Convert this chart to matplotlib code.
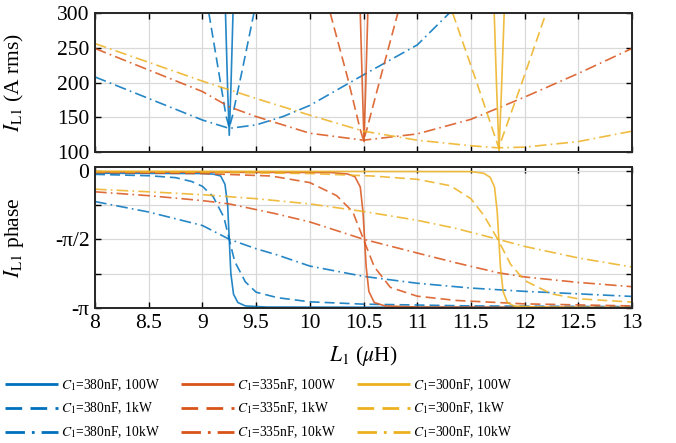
import numpy as np
import matplotlib
matplotlib.use("Agg")
import matplotlib.pyplot as plt
from matplotlib.lines import Line2D

# ---- magnitude readings (L1 in uH, I_L1 in A rms) ----
L_380_100 = [9.215, 9.235, 9.25, 9.265, 9.285]
I_380_100 = [300, 190, 124, 190, 300]
L_380_1k = [9.06, 9.15, 9.22, 9.25, 9.28, 9.37, 9.48]
I_380_1k = [300, 217, 152, 135, 152, 217, 300]
L_380_10k = [8, 8.5, 9.0, 9.25, 9.5, 9.75, 10.0, 10.5, 11.0, 11.3]
I_380_10k = [208, 177, 146, 134, 139, 151, 167, 211, 254, 300]

L_335_100 = [10.47, 10.49, 10.505, 10.52, 10.54]
I_335_100 = [300, 190, 115, 190, 300]
L_335_1k = [10.19, 10.35, 10.47, 10.5, 10.53, 10.66, 10.82]
I_335_1k = [300, 208, 132, 117, 132, 208, 300]
L_335_10k = [8, 8.5, 9.0, 9.25, 9.5, 10.0, 10.5, 11.0, 11.5, 12.0, 12.5, 13.0]
I_335_10k = [249, 218, 187, 165, 151, 127, 117, 126, 147, 179, 213, 249]

L_300_100 = [11.717, 11.74, 11.762, 11.785, 11.81]
I_300_100 = [300, 190, 101, 190, 300]
L_300_1k = [11.33, 11.55, 11.72, 11.76, 11.8, 11.98, 12.2]
I_300_1k = [300, 202, 124, 106, 124, 202, 300]
L_300_10k = [8, 8.5, 9.0, 9.5, 10.0, 10.5, 11.0, 11.5, 11.75, 12.0, 12.5, 13.0]
I_300_10k = [256, 229, 202, 177, 153, 130, 117, 109, 106, 107, 115, 130]

# ---- phase readings (in units of pi) ----
pL_380_100 = [8, 9.0, 9.1, 9.17, 9.21, 9.235, 9.25, 9.265, 9.29, 9.33, 9.4, 9.6, 13]
ph_380_100 = [-0.02, -0.022, -0.026, -0.04, -0.1, -0.25, -0.5, -0.75, -0.9, -0.96, -0.985, -0.993, -0.997]
pL_380_1k = [8, 8.5, 8.75, 8.9, 9.0, 9.1, 9.2, 9.25, 9.3, 9.4, 9.5, 9.7, 10.0, 10.5, 11.5, 13]
ph_380_1k = [-0.028, -0.038, -0.052, -0.08, -0.115, -0.19, -0.34, -0.5, -0.66, -0.81, -0.885, -0.925,
             -0.955, -0.972, -0.985, -0.99]
pL_380_10k = [8, 8.5, 9.0, 9.25, 9.5, 9.7, 10.0, 10.5, 11.0, 11.5, 12.0, 12.5, 13.0]
ph_380_10k = [-0.226, -0.302, -0.40, -0.5, -0.569, -0.615, -0.695, -0.77, -0.82, -0.855, -0.879, -0.897, -0.916]

pL_335_100 = [8, 10.2, 10.35, 10.42, 10.47, 10.495, 10.51, 10.525, 10.55, 10.6, 10.7, 11.0, 13]
ph_335_100 = [-0.01, -0.015, -0.025, -0.045, -0.12, -0.3, -0.5, -0.7, -0.88, -0.96, -0.985, -0.993, -0.997]
pL_335_1k = [8, 9.0, 9.64, 10.0, 10.25, 10.4, 10.5, 10.6, 10.75, 11.0, 11.36, 12.0, 13.0]
ph_335_1k = [-0.015, -0.022, -0.04, -0.088, -0.183, -0.3, -0.5, -0.7, -0.85, -0.914, -0.945, -0.97, -0.985]
pL_335_10k = [8, 8.5, 9.0, 9.25, 9.68, 10.0, 10.5, 11.0, 11.36, 11.75, 12.0, 12.5, 13.0]
ph_335_10k = [-0.155, -0.183, -0.219, -0.243, -0.314, -0.374, -0.5, -0.6, -0.671, -0.743, -0.774, -0.814, -0.845]

pL_300_100 = [8, 11.5, 11.62, 11.68, 11.72, 11.745, 11.76, 11.775, 11.8, 11.84, 11.9, 12.1, 13]
ph_300_100 = [-0.005, -0.008, -0.02, -0.05, -0.12, -0.3, -0.5, -0.7, -0.88, -0.96, -0.985, -0.993, -0.997]
pL_300_1k = [8, 9.0, 10.0, 10.58, 11.0, 11.31, 11.5, 11.62, 11.75, 11.87, 12.0, 12.25, 12.5, 13.0]
ph_300_1k = [-0.01, -0.013, -0.022, -0.04, -0.064, -0.111, -0.205, -0.326, -0.5, -0.683, -0.8, -0.897, -0.933, -0.957]
pL_300_10k = [8, 8.5, 9.0, 9.5, 10.0, 10.5, 11.0, 11.36, 11.75, 12.0, 12.5, 13.0]
ph_300_10k = [-0.136, -0.155, -0.176, -0.205, -0.243, -0.298, -0.362, -0.421, -0.5, -0.552, -0.636, -0.702]

labels = [r"$C_1$=380nF, 100W", r"$C_1$=380nF, 1kW", r"$C_1$=380nF, 10kW",
          r"$C_1$=335nF, 100W", r"$C_1$=335nF, 1kW", r"$C_1$=335nF, 10kW",
          r"$C_1$=300nF, 100W", r"$C_1$=300nF, 1kW", r"$C_1$=300nF, 10kW"]

plt.rcParams.update({
    "font.family": "Liberation Serif",
    "mathtext.fontset": "stix",
    "font.size": 15.5,
})

blue, orange, yellow = "#0072BD", "#D95319", "#EDB120"
solid = (0, ())
dash = (0, (6, 3))
dashdot = (0, (7, 2.5, 1, 2.5))

mag = [(L_380_100, I_380_100), (L_380_1k, I_380_1k), (L_380_10k, I_380_10k),
       (L_335_100, I_335_100), (L_335_1k, I_335_1k), (L_335_10k, I_335_10k),
       (L_300_100, I_300_100), (L_300_1k, I_300_1k), (L_300_10k, I_300_10k)]
pha = [(pL_380_100, ph_380_100), (pL_380_1k, ph_380_1k), (pL_380_10k, ph_380_10k),
       (pL_335_100, ph_335_100), (pL_335_1k, ph_335_1k), (pL_335_10k, ph_335_10k),
       (pL_300_100, ph_300_100), (pL_300_1k, ph_300_1k), (pL_300_10k, ph_300_10k)]
colors = [blue] * 3 + [orange] * 3 + [yellow] * 3
styles = [solid, dash, dashdot] * 3

fig = plt.figure(figsize=(6.76, 4.43), dpi=100)
ax1 = fig.add_axes([95 / 676, 1 - 152 / 443, 537 / 676, 139 / 443])
ax2 = fig.add_axes([95 / 676, 1 - 308 / 443, 537 / 676, 141 / 443])

for (x, y), c, ls in zip(mag, colors, styles):
    ax1.plot(x, y, color=c, linestyle=ls, linewidth=1.2, alpha=0.85)
for (x, y), c, ls in zip(pha, colors, styles):
    ax2.plot(x, np.array(y) * np.pi, color=c, linestyle=ls, linewidth=1.2, alpha=0.85)

ax1.set_ylim(100, 300)
ax1.set_yticks([100, 150, 200, 250, 300])
ax2.set_ylim(-np.pi, 0.08)
ax2.set_yticks([-np.pi, -3 * np.pi / 4, -np.pi / 2, -np.pi / 4, 0])
ax2.set_yticklabels(["-π", "", "-π/2", "", "0"])

for ax in (ax1, ax2):
    ax.set_xlim(8, 13)
    ax.set_xticks(np.arange(8, 13.01, 0.5))
    ax.grid(True, color="#d9d9d9", linewidth=0.9)
    ax.tick_params(direction="in", top=True, right=True, length=4, width=1, pad=4)
    for sp in ax.spines.values():
        sp.set_linewidth(1.4)
        sp.set_color("#262626")

ax1.tick_params(labelbottom=False)
ax2.set_xticklabels(["8", "8.5", "9", "9.5", "10", "10.5", "11", "11.5", "12", "12.5", "13"])

ax1.set_ylabel(r"$I_{\rm L1}$ (A rms)")
ax2.set_ylabel(r"$I_{\rm L1}$ phase")
ax1.yaxis.set_label_coords(-0.128, 0.5)
ax2.yaxis.set_label_coords(-0.128, 0.5)
ax2.set_xlabel(r"$L_1$ ($\mu$H)", labelpad=8)

handles = [Line2D([], [], color=c, linestyle=ls, linewidth=2) for c, ls in zip(colors, styles)]
fig.legend(handles, labels, ncol=3, loc="upper left", bbox_to_anchor=(5 / 676, 1 - 377 / 443),
           frameon=False, fontsize=9.8, handlelength=3.9, handletextpad=0.25,
           columnspacing=1.5, labelspacing=0.6, borderpad=0, borderaxespad=0)

fig.savefig("out.png", dpi=100)
